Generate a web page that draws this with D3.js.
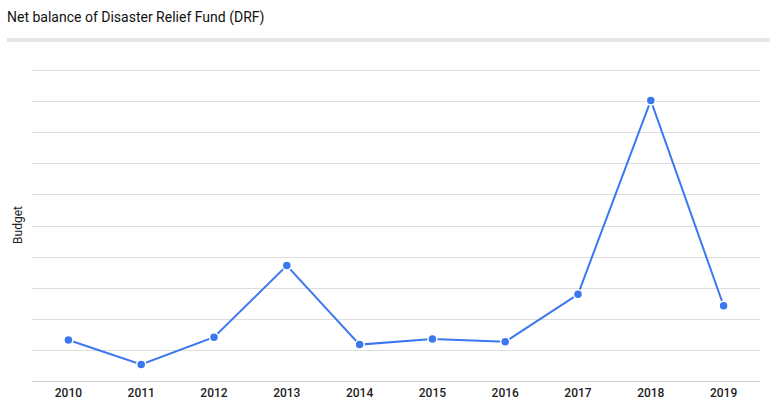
<!DOCTYPE html>
<html><head><meta charset="utf-8">
<script src="https://cdn.jsdelivr.net/npm/d3@7"></script>
<style>body{margin:0;background:#fff;}svg{display:block;font-family:Roboto, "Noto Sans", sans-serif;}</style>
</head><body><svg id="c" width="780" height="408"></svg>
<script>
const years = ["2010","2011","2012","2013","2014","2015","2016","2017","2018","2019"];
const budget = [1.32, 0.53, 1.41, 3.71, 1.17, 1.35, 1.26, 2.79, 9.02, 2.42];
const yTicks = [0,1,2,3,4,5,6,7,8,9,10];
const title = "Net balance of Disaster Relief Fund (DRF)";
const yLabel = "Budget";

const svg = d3.select("#c");
svg.append("text").attr("x",7).attr("y",22).attr("font-size",14).attr("fill","#111").text(title);
svg.append("rect").attr("x",7).attr("y",38).attr("width",763).attr("height",4).attr("fill","#e6e6e6");

const x = d3.scaleBand().domain(years).range([32,760]);
const y = d3.scaleLinear().domain([0,10]).range([381,70]);

svg.append("g").selectAll("line").data(yTicks).join("line")
  .attr("x1",32).attr("x2",760).attr("y1",d=>Math.round(y(d))+0.5).attr("y2",d=>Math.round(y(d))+0.5)
  .attr("stroke",d=>d===0?"#cccccc":"#dddddd").attr("stroke-width",1);

const xAxis = svg.append("g").attr("transform","translate(0,381)")
  .call(d3.axisBottom(x).tickSize(0).tickPadding(7.5));
xAxis.select(".domain").remove();
xAxis.selectAll("text").attr("font-size",12).attr("font-weight",500).attr("fill","#222")
  .attr("font-family","Roboto, sans-serif");

svg.append("text").attr("transform","translate(22,225) rotate(-90)").attr("text-anchor","middle")
  .attr("font-size",12).attr("fill","#222").text(yLabel);

const cx = d=>x(d)+x.bandwidth()/2;
const line = d3.line().x((d,i)=>cx(years[i])).y(d=>y(d));
svg.append("path").datum(budget).attr("d",line).attr("fill","none").attr("stroke","#3b78f0").attr("stroke-width",2);
svg.append("g").selectAll("circle").data(budget).join("circle")
  .attr("cx",(d,i)=>cx(years[i])).attr("cy",d=>y(d)).attr("r",4.5)
  .attr("fill","#3b78f0").attr("stroke","#fff").attr("stroke-width",1.5);
</script></body></html>
